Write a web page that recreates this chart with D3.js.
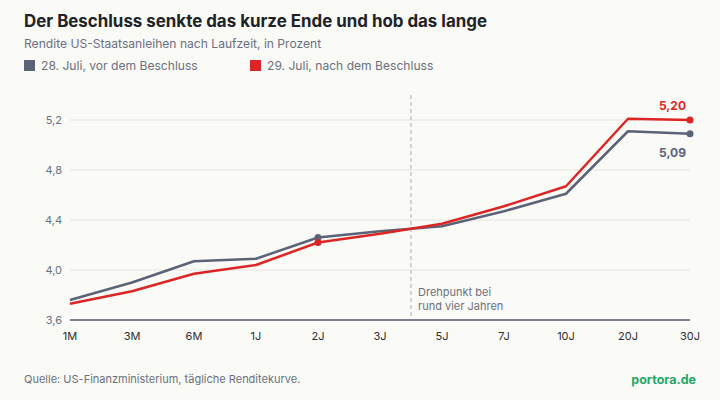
<!DOCTYPE html>
<html><head><meta charset="utf-8">
<script src="https://cdn.jsdelivr.net/npm/d3@7"></script>
<style>
html,body{margin:0;padding:0;background:#fafaf7;}
svg{display:block;font-family:Inter,"Noto Sans",sans-serif;}
</style></head>
<body><svg id="c" width="720" height="400"></svg>
<script>
const categories = ["1M","3M","6M","1J","2J","3J","5J","7J","10J","20J","30J"];
const before = [3.76,3.90,4.07,4.09,4.26,4.31,4.35,4.47,4.61,5.11,5.09];
const after  = [3.73,3.83,3.97,4.04,4.22,4.29,4.37,4.51,4.67,5.21,5.20];
const yTicks = [3.6,4.0,4.4,4.8,5.2];
const seriesNames = ["28. Juli, vor dem Beschluss","29. Juli, nach dem Beschluss"];
const GRAY="#5b6376", RED="#dc2626";

const svg=d3.select("#c");
svg.append("rect").attr("width",720).attr("height",400).attr("fill","#fafaf7");
const x=d3.scalePoint().domain(categories).range([70,690]);
const y=d3.scaleLinear().domain([3.6,5.2]).range([320,120]);
const fmt=v=>d3.format(".1f")(v).replace(".",",");

svg.append("text").attr("x",24).attr("y",27).attr("font-size",16.9).attr("font-weight",700).attr("fill","#1f2328").text("Der Beschluss senkte das kurze Ende und hob das lange");
svg.append("text").attr("x",24).attr("y",48).attr("font-size",12.1).attr("fill","#6b7080").text("Rendite US-Staatsanleihen nach Laufzeit, in Prozent");
[[24,GRAY,seriesNames[0]],[250,RED,seriesNames[1]]].forEach(([lx,c,t])=>{
  svg.append("rect").attr("x",lx).attr("y",60).attr("width",11).attr("height",11).attr("fill",c);
  svg.append("text").attr("x",lx+17).attr("y",70).attr("font-size",12.1).attr("fill","#6b7080").text(t);
});

// grid
const g=svg.append("g");
g.selectAll("line.grid").data(yTicks.slice(1)).join("line")
 .attr("x1",70).attr("x2",690).attr("y1",d=>y(d)).attr("y2",d=>y(d))
 .attr("stroke","#ebebe7").attr("stroke-width",1.5);
g.selectAll("text.yl").data(yTicks).join("text")
 .attr("x",62).attr("y",d=>y(d)+4).attr("text-anchor","end").attr("font-size",11).attr("fill","#6b7080").text(fmt);

// dashed pivot line
const pivotX=(x("3J")+x("5J"))/2;
svg.append("line").attr("x1",pivotX).attr("x2",pivotX).attr("y1",95).attr("y2",320)
 .attr("stroke","#c4c6cc").attr("stroke-width",1.5).attr("stroke-dasharray","4,3");
svg.append("text").attr("x",pivotX+7).attr("y",296).attr("font-size",11).attr("fill","#6b7080").text("Drehpunkt bei");
svg.append("text").attr("x",pivotX+7).attr("y",310).attr("font-size",11).attr("fill","#6b7080").text("rund vier Jahren");

// axis
svg.append("line").attr("x1",70).attr("x2",690).attr("y1",320).attr("y2",320).attr("stroke","#7c818e").attr("stroke-width",2);
svg.selectAll("text.xl").data(categories).join("text")
 .attr("x",d=>x(d)).attr("y",340).attr("text-anchor","middle").attr("font-size",11).attr("fill","#2a2e36").text(d=>d);

const line=d3.line().x((d,i)=>x(categories[i])).y(d=>y(d));
[[before,GRAY],[after,RED]].forEach(([vals,c])=>{
  svg.append("path").attr("d",line(vals)).attr("fill","none").attr("stroke",c).attr("stroke-width",2.5).attr("stroke-linejoin","round");
  [4,10].forEach(i=>{
    svg.append("circle").attr("cx",x(categories[i])).attr("cy",y(vals[i])).attr("r",3.5).attr("fill",c);
  });
});
const last=categories.length-1;
svg.append("text").attr("x",686).attr("y",y(after[last])-10).attr("text-anchor","end").attr("font-size",12).attr("font-weight",700).attr("fill",RED).text(d3.format(".2f")(after[last]).replace(".",","));
svg.append("text").attr("x",686).attr("y",y(before[last])+23).attr("text-anchor","end").attr("font-size",12).attr("font-weight",700).attr("fill",GRAY).text(d3.format(".2f")(before[last]).replace(".",","));

svg.append("text").attr("x",24).attr("y",383).attr("font-size",11).attr("fill","#6b7080").text("Quelle: US-Finanzministerium, tägliche Renditekurve.");
svg.append("text").attr("x",696).attr("y",384).attr("text-anchor","end").attr("font-size",12.5).attr("font-weight",700).attr("fill","#1fa86a").text("portora.de");
</script></body></html>
